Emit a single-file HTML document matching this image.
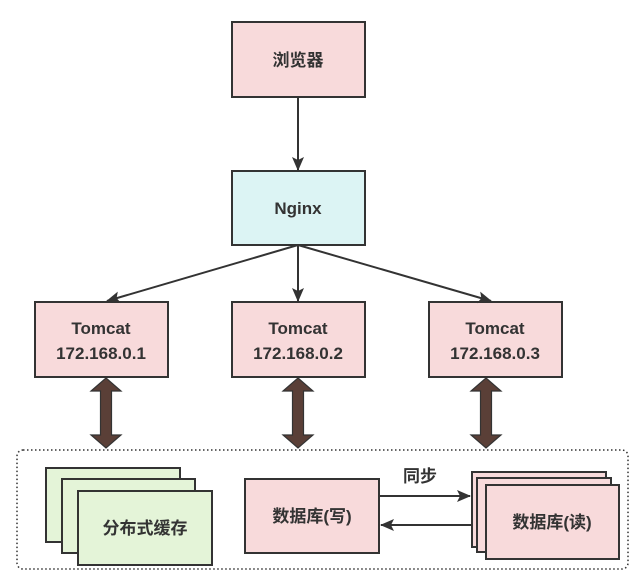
<!DOCTYPE html>
<html><head><meta charset="utf-8"><style>
body{margin:0;background:#fff;}
svg text{font-family:"Liberation Sans","Noto Sans CJK SC",sans-serif;font-weight:bold;fill:#333;}
</style></head><body>
<svg width="639" height="580" viewBox="0 0 639 580" xmlns="http://www.w3.org/2000/svg">
<defs>
<marker id="ah" markerWidth="14" markerHeight="12" refX="13" refY="6" orient="auto" markerUnits="userSpaceOnUse">
<path d="M0,0 L14,6 L0,12 L3,6 Z" fill="#333"/>
</marker>
</defs>
<g stroke="#333" stroke-width="2">
<rect x="232" y="22" width="133" height="75" fill="#f8dadb"/>
<rect x="232" y="171" width="133" height="74" fill="#dcf4f4"/>
<rect x="35" y="302" width="133" height="75" fill="#f8dadb"/>
<rect x="232" y="302" width="133" height="75" fill="#f8dadb"/>
<rect x="429" y="302" width="133" height="75" fill="#f8dadb"/>
<line x1="298" y1="97" x2="298" y2="170" marker-end="url(#ah)"/>
<line x1="298" y1="245" x2="107" y2="301" marker-end="url(#ah)"/>
<line x1="298" y1="245" x2="298" y2="301" marker-end="url(#ah)"/>
<line x1="298" y1="245" x2="491" y2="301" marker-end="url(#ah)"/>
<rect x="17" y="450" width="611" height="119" rx="6" fill="none" stroke-width="1.5" stroke-dasharray="1.5,2.5"/>
<rect x="46" y="468" width="134" height="74" fill="#e4f4d8"/>
<rect x="62" y="479" width="133" height="74" fill="#e4f4d8"/>
<rect x="78" y="491" width="134" height="74" fill="#e4f4d8"/>
<rect x="245" y="479" width="134" height="74" fill="#f8dadb"/>
<rect x="472" y="472" width="134" height="75" fill="#f8dadb"/>
<rect x="477" y="478" width="134" height="74" fill="#f8dadb"/>
<rect x="486" y="485" width="133" height="74" fill="#f8dadb"/>
<line x1="379" y1="496" x2="470" y2="496" marker-end="url(#ah)"/>
<line x1="472" y1="525" x2="381" y2="525" marker-end="url(#ah)"/>
</g>
<g fill="#5a3f37" stroke="#333" stroke-width="1.2">
<path d="M106,378 L121,391 L111.5,391 L111.5,435 L121,435 L106,448 L91,435 L100.5,435 L100.5,391 L91,391 Z"/>
<path d="M298,378 L313,391 L303.5,391 L303.5,435 L313,435 L298,448 L283,435 L292.5,435 L292.5,391 L283,391 Z"/>
<path d="M486,378 L501,391 L491.5,391 L491.5,435 L501,435 L486,448 L471,435 L480.5,435 L480.5,391 L471,391 Z"/>
</g>
<g text-anchor="middle" font-size="17">
<text x="298" y="66">浏览器</text>
<text x="298" y="214">Nginx</text>
<text x="101" y="334">Tomcat</text><text x="101" y="359">172.168.0.1</text>
<text x="298" y="334">Tomcat</text><text x="298" y="359">172.168.0.2</text>
<text x="495" y="334">Tomcat</text><text x="495" y="359">172.168.0.3</text>
<text x="145" y="534">分布式缓存</text>
<text x="312" y="522">数据库(写)</text>
<text x="552" y="528">数据库(读)</text>
<text x="420" y="482">同步</text>
</g>
</svg>
</body></html>
